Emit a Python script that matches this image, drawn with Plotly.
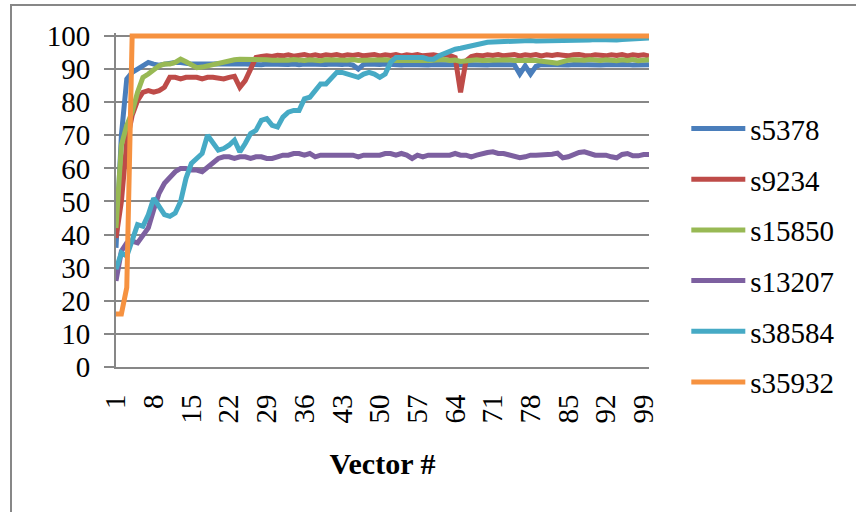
import plotly.graph_objects as go

# Vector index (category axis)
vectors = list(range(1, 101))
tick_labels = [1, 8, 15, 22, 29, 36, 43, 50, 57, 64, 71, 78, 85, 92, 99]

s5378 = [
    36, 70, 87, 89, 90, 91, 92, 91.5, 91.2, 91.5,
    91.8, 92, 92, 91.6, 91.5, 91.5, 91.4, 91.5, 91.5, 91.6,
    91.5, 91.7, 91.6, 91.5, 91.5, 91.4, 91.5, 91.3, 91.5, 91.4,
    91.5, 91.3, 91.4, 91.5, 91.3, 91.5, 91.4, 91.3, 91.5, 91.4,
    91.5, 91.3, 91.4, 91.5, 91.2, 90.0, 91.4, 91.5, 91.3, 91.4,
    91.5, 91.3, 91.4, 91.2, 91.4, 91.3, 91.5, 91.3, 91.2, 91.4,
    91.3, 91.4, 91.2, 91.3, 91.4, 91.3, 91.2, 91.4, 91.3, 91.2,
    91.4, 91.3, 91.2, 91.4, 91.3, 88.5, 91.0, 88.5, 90.8, 91.4,
    91.3, 91.2, 91.4, 91.3, 91.2, 91.4, 91.3, 91.2, 91.4, 91.3,
    91.2, 91.3, 91.4, 91.2, 91.3, 91.4, 91.2, 91.3, 91.2, 91.3,
]

s9234 = [
    39, 50, 68, 76, 80.5, 83, 83.5, 83, 83.5, 84.5,
    87.5, 87.5, 87, 87.5, 87.5, 87.5, 87, 87.5, 87.5, 87.2,
    87, 87.5, 87.8, 84.5, 86.5, 90, 93.5, 93.8, 94, 93.8,
    94.2, 94, 94.3, 93.9, 94.2, 94.4, 94, 94.3, 94, 94.3,
    94.1, 94.4, 94, 94.3, 94.1, 94.4, 94, 94.2, 94.4, 94,
    94.3, 94.1, 94.4, 94, 94.3, 94.1, 94.4, 94, 94.2, 94.3,
    94, 94.3, 94.1, 93.5, 83, 92.5, 93.8, 94.2, 94, 94.3,
    94.1, 94.4, 94, 94.2, 94.4, 94, 94.3, 94.1, 94.4, 94,
    94.3, 94.1, 94.4, 94.2, 94, 94.3, 94.4, 94.1, 94, 94.3,
    94.2, 94, 94.3, 94.1, 94.4, 94, 94.3, 94.1, 94.3, 93.9,
]

s15850 = [
    42, 67, 73, 77, 83, 87.5, 88.5, 90, 91, 91.5,
    91.5, 92, 93, 92.2, 91.2, 90.4, 90.6, 91, 91.2, 91.6,
    92, 92.5, 92.8, 93, 93, 93.1, 93, 92.9, 92.8, 92.7,
    92.6, 92.8, 92.7, 92.9, 92.7, 92.6, 92.8, 92.7, 92.5, 92.8,
    92.7, 92.6, 92.8, 92.7, 92.9, 92.6, 92.7, 92.8, 92.6, 92.7,
    92.8, 92.6, 92.7, 92.9, 92.7, 92.6, 92.8, 92.7, 92.6, 92.8,
    92.7, 92.9, 92.6, 92.7, 92.3, 92.5, 92.7, 92.8, 92.6, 92.7,
    92.8, 92.6, 92.7, 92.8, 92.6, 92.7, 92.9, 92.7, 92.6, 92.5,
    92.3, 92.0, 91.8, 92.4, 92.7, 92.8, 92.6, 92.7, 92.9, 92.7,
    92.6, 92.8, 92.7, 92.5, 92.8, 92.6, 92.9, 92.5, 92.7, 92.8,
]

s13207 = [
    26, 35, 37.5, 38, 37.5, 39.5, 42, 47.5, 52.5, 55.5,
    57.5, 59, 60, 60, 59.5, 59.5, 59, 60.5, 61.5, 63,
    63.5, 63.5, 63, 63.5, 63.5, 63, 63.5, 63.5, 63, 63,
    63.5, 64, 64, 64.5, 64.5, 64, 64.5, 63.5, 64, 64,
    64, 64, 64, 64, 64, 63.5, 64, 64, 64, 64,
    64.5, 64.5, 64, 64.5, 64, 63, 64, 63.5, 64, 64,
    64, 64, 64, 64.5, 64, 64, 63.5, 64, 64.5, 64.8,
    65, 64.5, 64.5, 64, 63.5, 63.2, 63.5, 64, 64, 64,
    64, 64.3, 64.6, 63.2, 63.5, 64.2, 64.8, 65, 64.5, 64,
    64, 64, 63.5, 63.2, 64.2, 64.5, 63.8, 63.8, 64.2, 64.2,
]

s38584 = [
    29.5, 34.5, 33.5, 38, 43, 42.5, 46, 51, 48.5, 46,
    45.5, 46.5, 50, 57, 61.5, 63, 64.5, 70, 67.5, 65.5,
    66, 67, 68.5, 65, 67.5, 70.5, 71.5, 74.5, 75, 73,
    72.5, 75.5, 77, 77.5, 77.5, 81, 81.5, 83.5, 85.5, 85.5,
    87.5, 89, 89, 88.5, 88, 87.5, 88.5, 89, 88.5, 87.5,
    88.5, 92, 93.5, 93.5, 93.5, 93.5, 93.5, 93.5, 93, 93,
    94, 94.8, 95.4, 96, 96.3, 96.7, 97.2, 97.6, 97.9, 98.1,
    98.2, 98.3, 98.3, 98.5, 98.5, 98.4, 98.5, 98.6, 98.5, 98.5,
    98.6, 98.7, 98.6, 98.7, 98.8, 98.7, 98.8, 98.8, 98.8, 98.9,
    98.8, 98.9, 98.9, 98.8, 98.9, 99, 99, 99.1, 99.2, 99.4,
]

s35932 = [
    16, 16, 24, 100, 100, 100, 100, 100, 100, 100,
    100, 100, 100, 100, 100, 100, 100, 100, 100, 100,
    100, 100, 100, 100, 100, 100, 100, 100, 100, 100,
    100, 100, 100, 100, 100, 100, 100, 100, 100, 100,
    100, 100, 100, 100, 100, 100, 100, 100, 100, 100,
    100, 100, 100, 100, 100, 100, 100, 100, 100, 100,
    100, 100, 100, 100, 100, 100, 100, 100, 100, 100,
    100, 100, 100, 100, 100, 100, 100, 100, 100, 100,
    100, 100, 100, 100, 100, 100, 100, 100, 100, 100,
    100, 100, 100, 100, 100, 100, 100, 100, 100, 100,
]

series_names = ["s5378", "s9234", "s15850", "s13207", "s38584", "s35932"]
series_values = [s5378, s9234, s15850, s13207, s38584, s35932]
series_colors = ["#4A7EBB", "#BE4B48", "#98B954", "#7D60A0", "#46AAC5", "#F69240"]

FONT = "Liberation Serif, Times New Roman, serif"
GRID = "#878787"

fig = go.Figure()
for name, vals, color in zip(series_names, series_values, series_colors):
    fig.add_trace(go.Scatter(
        x=vectors, y=vals, name=name, mode="lines",
        line=dict(color=color, width=5),
        legendgroup=name,
    ))

# Outer chart-area frame
fig.add_shape(type="rect", xref="paper", yref="paper",
              x0=-0.197, x1=1.7, y0=-0.7, y1=1.084,
              line=dict(color=GRID, width=2), fillcolor="rgba(0,0,0,0)",
              layer="below")

# y range carries a little headroom above 100 so the top line is not clipped
fig.update_layout(
    width=856, height=512,
    margin=dict(l=116, r=207, t=33, b=145, autoexpand=False),
    paper_bgcolor="white", plot_bgcolor="white",
    font=dict(family=FONT, color="black", size=29),
    showlegend=True,
    legend=dict(
        x=1.07, xanchor="left", y=0.79, yanchor="top",
        font=dict(family=FONT, size=29, color="black"),
        tracegroupgap=10, itemwidth=54,
        bgcolor="rgba(0,0,0,0)",
    ),
    xaxis=dict(
        range=[1, 100], tickmode="array", tickvals=tick_labels,
        ticktext=[str(t) for t in tick_labels],
        tickangle=-90, showgrid=False, zeroline=False,
        showline=True, linecolor=GRID, linewidth=2,
        ticks="", ticklabelstandoff=14,
        tickfont=dict(family=FONT, size=29, color="black"),
        title=dict(text="<b>Vector #</b>", standoff=30,
                   font=dict(family=FONT, size=30, color="black")),
    ),
    yaxis=dict(
        range=[0, 100.9], tickmode="array", tickvals=list(range(0, 101, 10)),
        showgrid=True, gridcolor=GRID, gridwidth=2,
        zeroline=False, showline=True, linecolor=GRID, linewidth=2,
        ticks="outside", ticklen=10, tickcolor=GRID, tickwidth=2,
        ticklabelstandoff=8,
        tickfont=dict(family=FONT, size=29, color="black"),
    ),
)

fig.write_html("out.html")
